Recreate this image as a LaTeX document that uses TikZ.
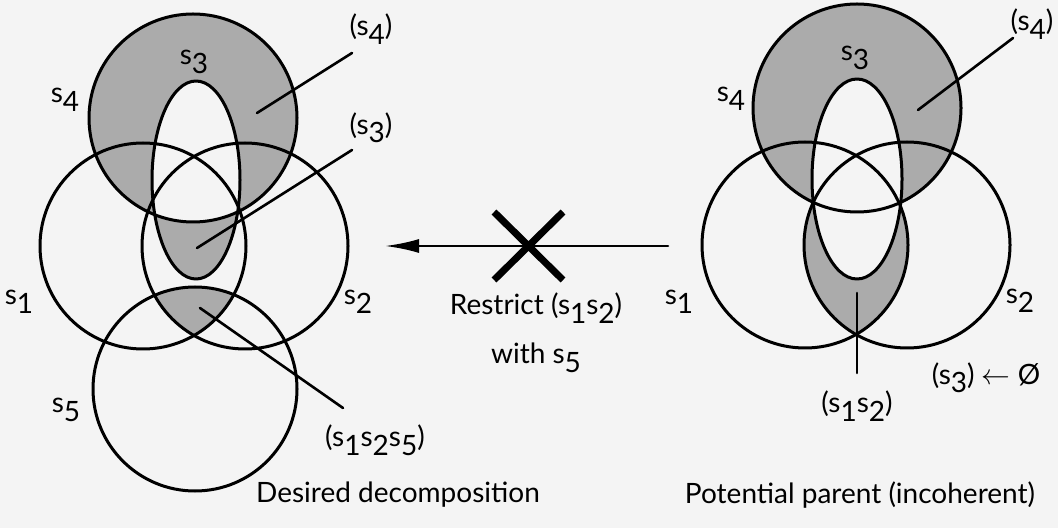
\documentclass[tikz,border=0pt]{standalone}
\usepackage{fontspec}
\setmainfont{Lato}
\usetikzlibrary{arrows.meta}
\definecolor{paper}{gray}{0.955}
\newcommand{\sv}[1]{s\raisebox{-0.6ex}{#1}}
\tikzset{
  setline/.style={line width=1.5pt},
  region/.style={fill=black!33},
  lbl/.style={font=\fontsize{14}{16}\selectfont, inner sep=1pt},
  leader/.style={line width=1.3pt},
}
\begin{document}
\begin{tikzpicture}[x=0.5pt, y=-0.5pt, line join=round, line cap=round]
  % Nền
  \fill[paper] (0,0) rectangle (1058,528);
  \useasboundingbox (0,0) rectangle (1058,528);

  % ===== Desired decomposition (trái)
  % Miền tô
  \fill[region, even odd rule] (193,118) circle [radius=104]
    (196,180) ellipse [x radius=44, y radius=99];
  \begin{scope}
    \clip (143,246) circle [radius=103];
    \clip (245,246) circle [radius=103];
    \fill[region] (195,389) circle [radius=102];
  \end{scope}

  % Các tập
  \draw[setline] (193,118) circle [radius=104];
  \draw[setline] (143,246) circle [radius=103];
  \draw[setline] (245,246) circle [radius=103];
  \draw[setline] (195,389) circle [radius=102];
  \draw[setline] (196,180) ellipse [x radius=44, y radius=99];

  % Nhãn các tập
  \node[lbl] (ls3) at (194,62) {\sv{3}};
  \node[lbl] (ls4) at (65,100) {\sv{4}};
  \node[lbl] (ls1) at (19,302) {\sv{1}};
  \node[lbl] (ls2) at (358,302) {\sv{2}};
  \node[lbl] (ls5) at (66,410) {\sv{5}};

  % Nhãn các miền và đường dẫn
  \node[lbl] (lr4) at (371,29) {(\sv{4})};
  \node[lbl] (lr3) at (371,128) {(\sv{3})};
  \node[lbl] (lr125) at (375,440) {(\sv{1}\sv{2}\sv{5})};
  \coordinate (a4) at (352,53);  \coordinate (b4) at (257,113);
  \coordinate (a3) at (352,150); \coordinate (b3) at (197,248);
  \coordinate (a125) at (343,408); \coordinate (b125) at (200,308);
  \draw[leader] (a4) -- (b4);
  \draw[leader] (a3) -- (b3);
  \draw[leader] (a125) -- (b125);

  \node[lbl] (capL) at (398,495) {Desired decomposition};

  % ===== Mũi tên bị gạch
  \coordinate (arrR) at (668,246);
  \coordinate (arrL) at (385,246);
  \draw[line width=1.3pt, -{Latex[length=17pt, width=7pt]}] (arrR) -- (arrL);
  \coordinate (x1) at (494,212); \coordinate (x2) at (563,280);
  \coordinate (x3) at (563,212); \coordinate (x4) at (494,280);
  \draw[line width=3.5pt, line cap=butt] (x1) -- (x2) (x3) -- (x4);
  \node[lbl] (rst) at (536,308) {Restrict (\sv{1}\sv{2})};
  \node[lbl] (with) at (536,358) {with \sv{5}};

  % ===== Potential parent (phải)
  % Miền tô
  \fill[region] (857,108) circle [radius=104];
  \begin{scope}
    \clip (805,245) circle [radius=103];
    \fill[region] (907,245) circle [radius=103];
  \end{scope}
  \fill[paper] (857,179) ellipse [x radius=45, y radius=100];

  % Các tập
  \draw[setline] (857,108) circle [radius=104];
  \draw[setline] (805,245) circle [radius=103];
  \draw[setline] (907,245) circle [radius=103];
  \draw[setline] (857,179) ellipse [x radius=45, y radius=100];

  % Nhãn
  \node[lbl] (rs3) at (855,58) {\sv{3}};
  \node[lbl] (rs4) at (731,99) {\sv{4}};
  \node[lbl] (rs1) at (679,302) {\sv{1}};
  \node[lbl] (rs2) at (1020,301) {\sv{2}};
  \node[lbl] (rr4) at (1032,24) {(\sv{4})};
  \node[lbl] (rr3) at (986,378) {(\sv{3}) $\leftarrow$ Ø};
  \node[lbl] (rr12) at (857,406) {(\sv{1}\sv{2})};
  \coordinate (c4) at (1013,38);  \coordinate (d4) at (918,110);
  \coordinate (c12) at (857,373); \coordinate (d12) at (857,293);
  \draw[leader] (c4) -- (d4);
  \draw[leader] (c12) -- (d12);

  \node[lbl] (capR) at (860,495) {Potential parent (incoherent)};
\end{tikzpicture}
\end{document}
